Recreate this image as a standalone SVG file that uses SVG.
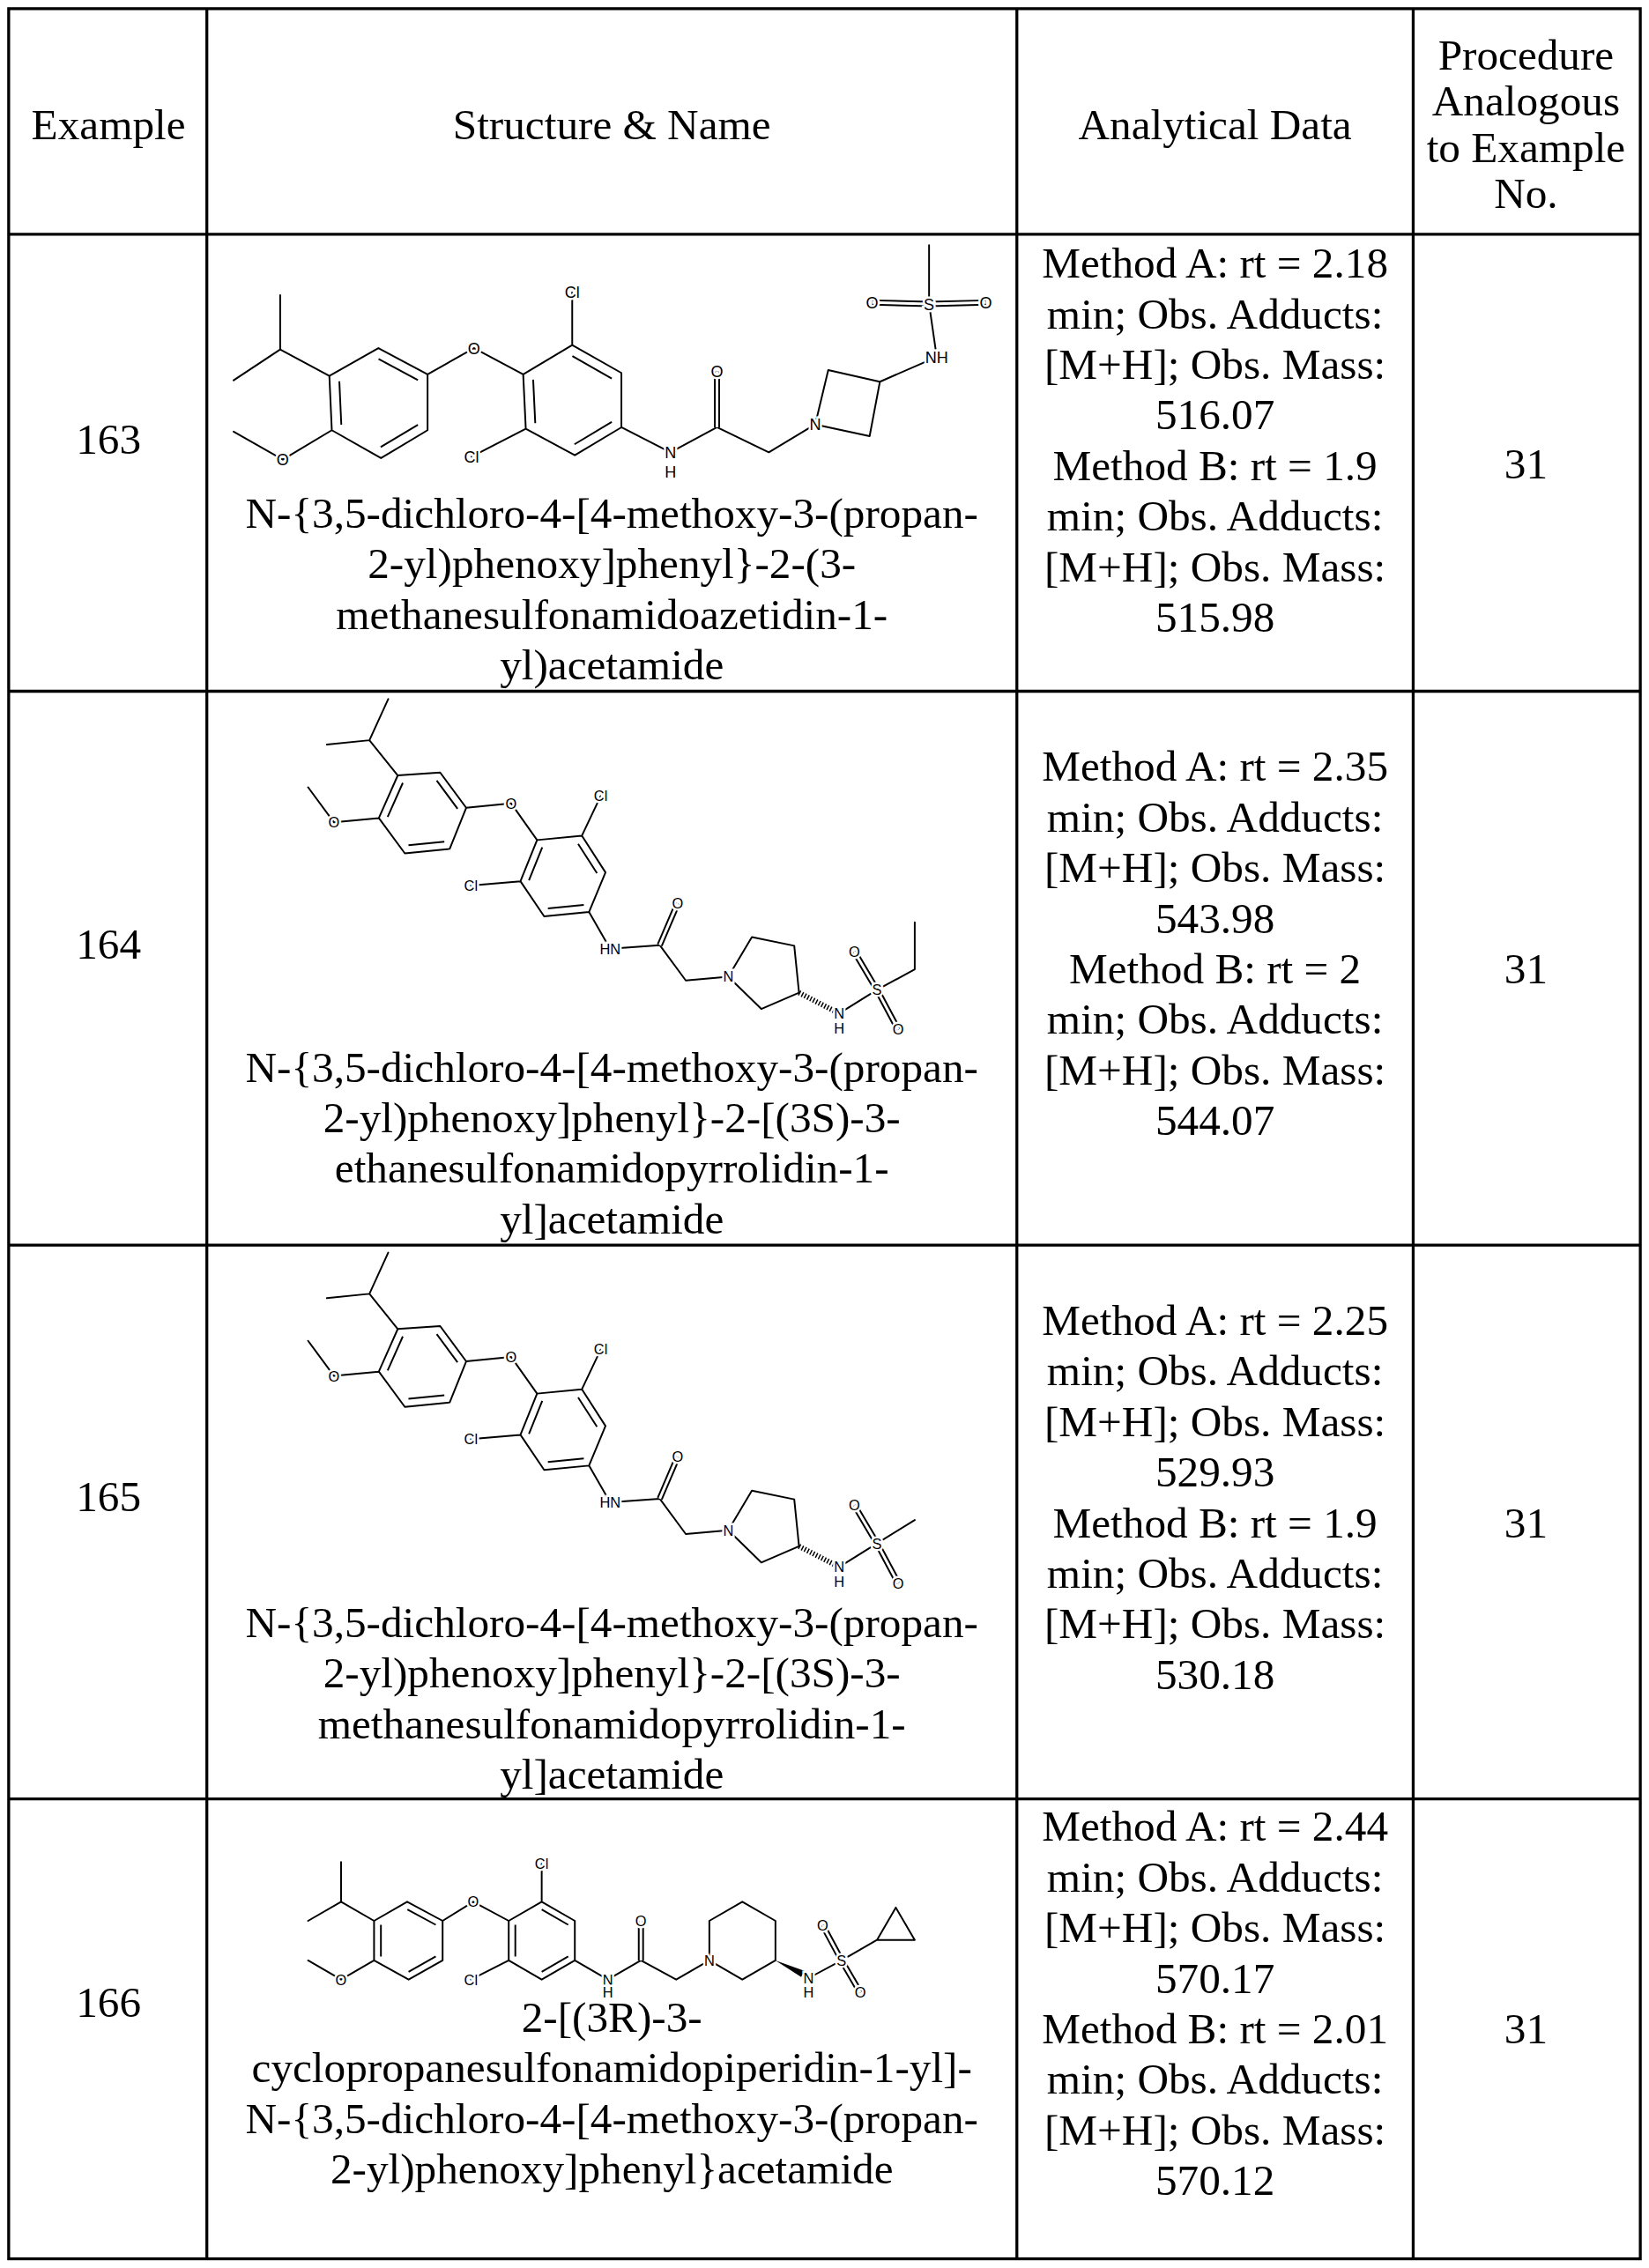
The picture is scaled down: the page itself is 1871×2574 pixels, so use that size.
<svg xmlns="http://www.w3.org/2000/svg" xmlns:xlink="http://www.w3.org/1999/xlink" width="1871" height="2574" viewBox="0 0 1871 2574">
<style>
.grid{stroke:#000;stroke-width:2;fill:none}
.t{font-family:"Liberation Serif","Times New Roman",serif;font-size:30px;fill:#000;text-anchor:middle}
.b{stroke:#000;stroke-width:1.2;fill:none;stroke-linejoin:round;stroke-linecap:round}
.bi{stroke:#000;stroke-width:1.5;fill:none}
.d{stroke:#000;stroke-width:4.2;fill:none}
.dw{stroke:#fff;stroke-width:1.8;fill:none}
.h{stroke:#000;stroke-width:3.6;fill:none;stroke-dasharray:0.9 1.3}
.a{font-family:"Liberation Sans",Arial,sans-serif;font-size:10px;fill:#000;text-anchor:middle;stroke:#fff;stroke-width:3;paint-order:stroke}
.a10{font-size:11px}
</style>
<rect width="1871" height="2574" fill="#fff"/>
<g transform="scale(1.6412)">
<g id="table">
<rect x="6" y="6" width="1128" height="1556" class="grid"/>
<path class="grid" d="M143,6V1562M703,6V1562M977,6V1562M6,162H1134M6,478H1134M6,861H1134M6,1244H1134"/>
</g>
<g id="header">
<text class="t" x="75" y="96">Example</text>
<text class="t" x="423" y="96">Structure &amp; Name</text>
<text class="t" x="840" y="96">Analytical Data</text>
<text class="t" x="1055" y="48">Procedure</text>
<text class="t" x="1055" y="80">Analogous</text>
<text class="t" x="1055" y="112">to Example</text>
<text class="t" x="1055" y="144">No.</text>
</g>
<g id="row163">
<text class="t" x="75" y="314">163</text>
<text class="t" x="423" y="365">N-{3,5-dichloro-4-[4-methoxy-3-(propan-</text>
<text class="t" x="423" y="400">2-yl)phenoxy]phenyl}-2-(3-</text>
<text class="t" x="423" y="435">methanesulfonamidoazetidin-1-</text>
<text class="t" x="423" y="470">yl)acetamide</text>
<text class="t" x="840" y="192">Method A: rt = 2.18</text>
<text class="t" x="840" y="227">min; Obs. Adducts:</text>
<text class="t" x="840" y="262">[M+H]; Obs. Mass:</text>
<text class="t" x="840" y="297">516.07</text>
<text class="t" x="840" y="332">Method B: rt = 1.9</text>
<text class="t" x="840" y="367">min; Obs. Adducts:</text>
<text class="t" x="840" y="402">[M+H]; Obs. Mass:</text>
<text class="t" x="840" y="437">515.98</text>
<text class="t" x="1055" y="331">31</text>
<g id="mol163">
<path class="b" d="M193.7,204.1L193.7,241.7L161.5,263M193.7,241.7L227.7,260M227.7,260L261.6,240.7L295.6,258.9L295.6,297.5L263.4,316.8L229.4,297.5ZM229.4,297.5L195.5,317.8L161.5,298.5M295.6,258.9L327.7,240.7L361.7,258.9M361.7,258.9L395.6,238.6L429.6,257.9L429.6,295.5L397.4,314.8L363.5,296.5ZM395.6,238.6L395.6,202.1M363.5,296.5L326,315.8M429.6,295.5L463.5,312.8L495.7,295.5L531.5,312.8L563.6,293.5M563.6,293.5L572.6,255.9L608.3,264L601.2,301.6ZM608.3,264L647.6,246.8L642.3,210.2L642.3,169.6"/>
<path class="bi" transform="translate(262.2,278.6) scale(0.8) translate(-262.2,-278.6)" d="M261.6,240.7L295.6,258.9M295.6,297.5L263.4,316.8M229.4,297.5L227.7,260"/>
<path class="bi" transform="translate(396.2,277) scale(0.8) translate(-396.2,-277)" d="M395.6,238.6L429.6,257.9M429.6,295.5L397.4,314.8M363.5,296.5L361.7,258.9"/>
<path class="d" d="M495.7,295.5L495.7,256.9M642.3,210.2L603,209.2M642.3,210.2L681.6,209.2"/>
<path class="dw" d="M495.7,295.5L495.7,256.9M642.3,210.2L603,209.2M642.3,210.2L681.6,209.2"/>
<g class="a a10">
<text x="327.7" y="244.7">O</text><text x="195.5" y="321.8">O</text>
<text x="395.6" y="206.1">Cl</text><text x="326" y="319.8">Cl</text>
<text x="463.5" y="316.8">N</text><text x="463.5" y="330">H</text>
<text x="495.7" y="260.9">O</text><text x="563.6" y="297.5">N</text>
<text x="647.6" y="250.8">NH</text><text x="642.3" y="214.2">S</text>
<text x="603" y="213.2">O</text><text x="681.6" y="213.2">O</text>
</g>
</g>
</g>
<defs>
<g id="core164">
<path class="b" d="M268.4,483.4L255.4,511.9L226,514.9M255.4,511.9L275,536.2M275,536.2L304.3,534.2L322.3,558.6L310.9,587L279.9,590.1L261.9,565.7ZM261.9,565.7L230.9,568.7L213,544.4M322.3,558.6L353.3,555.5L371.3,580.9M371.3,580.9L402.3,577.9L418.6,603.3L407.2,630.7L376.2,633.7L359.8,609.4ZM402.3,577.9L415.3,550.4M359.8,609.4L325.6,612.4M407.2,630.7L421.8,656.1L456.1,653.6L474.1,678L503.5,675.4M503.5,675.4L519.8,648L549.1,654L552.4,686.5L526.3,697.7ZM580.2,700.8L606.3,684.5"/>
<path class="h" d="M552.4,686.5L577,699.2"/>
<path class="bi" transform="translate(292.4,562) scale(0.8) translate(-292.4,-562)" d="M304.3,534.2L322.3,558.6M310.9,587L279.9,590.1M261.9,565.7L275,536.2"/>
<path class="bi" transform="translate(389.2,606) scale(0.8) translate(-389.2,-606)" d="M402.3,577.9L418.6,603.3M407.2,630.7L376.2,633.7M359.8,609.4L371.3,580.9"/>
<path class="d" d="M456.1,653.6L468.5,624.6M606.3,684.5L590.6,658.1M606.3,684.5L621,712"/>
<path class="dw" d="M456.1,653.6L468.5,624.6M606.3,684.5L590.6,658.1M606.3,684.5L621,712"/>
</g>
<g id="labels164" class="a">
<text x="230.9" y="572.3">O</text><text x="353.3" y="559.1">O</text>
<text x="415.3" y="554">Cl</text><text x="325.6" y="616">Cl</text>
<text x="421.8" y="659.7">HN</text><text x="468.5" y="628.2">O</text>
<text x="503.5" y="679">N</text><text x="580.2" y="704.4">N</text>
<text x="580.2" y="714.6">H</text><text x="606.3" y="688.1">S</text>
<text x="590.6" y="661.7">O</text><text x="621" y="715.6">O</text>
</g>
</defs>
<g id="row164">
<text class="t" x="75" y="663">164</text>
<text class="t" x="423" y="748">N-{3,5-dichloro-4-[4-methoxy-3-(propan-</text>
<text class="t" x="423" y="783">2-yl)phenoxy]phenyl}-2-[(3S)-3-</text>
<text class="t" x="423" y="818">ethanesulfonamidopyrrolidin-1-</text>
<text class="t" x="423" y="853">yl]acetamide</text>
<text class="t" x="840" y="540">Method A: rt = 2.35</text>
<text class="t" x="840" y="575">min; Obs. Adducts:</text>
<text class="t" x="840" y="610">[M+H]; Obs. Mass:</text>
<text class="t" x="840" y="645">543.98</text>
<text class="t" x="840" y="680">Method B: rt = 2</text>
<text class="t" x="840" y="715">min; Obs. Adducts:</text>
<text class="t" x="840" y="750">[M+H]; Obs. Mass:</text>
<text class="t" x="840" y="785">544.07</text>
<text class="t" x="1055" y="680">31</text>
<g id="mol164">
<use xlink:href="#core164"/>
<path class="b" d="M606.3,684.5L632.4,670.3L632.4,637.8"/>
<use xlink:href="#labels164"/>
</g>
</g>
<g id="row165">
<text class="t" x="75" y="1045">165</text>
<text class="t" x="423" y="1132">N-{3,5-dichloro-4-[4-methoxy-3-(propan-</text>
<text class="t" x="423" y="1167">2-yl)phenoxy]phenyl}-2-[(3S)-3-</text>
<text class="t" x="423" y="1202">methanesulfonamidopyrrolidin-1-</text>
<text class="t" x="423" y="1237">yl]acetamide</text>
<text class="t" x="840" y="923">Method A: rt = 2.25</text>
<text class="t" x="840" y="958">min; Obs. Adducts:</text>
<text class="t" x="840" y="993">[M+H]; Obs. Mass:</text>
<text class="t" x="840" y="1028">529.93</text>
<text class="t" x="840" y="1063">Method B: rt = 1.9</text>
<text class="t" x="840" y="1098">min; Obs. Adducts:</text>
<text class="t" x="840" y="1133">[M+H]; Obs. Mass:</text>
<text class="t" x="840" y="1168">530.18</text>
<text class="t" x="1055" y="1063">31</text>
<g id="mol165" transform="translate(0,382.8)">
<use xlink:href="#core164"/>
<path class="b" d="M606.3,684.5L632.4,668.3"/>
<use xlink:href="#labels164"/>
</g>
</g>
<g id="row166">
<text class="t" x="75" y="1395">166</text>
<text class="t" x="423" y="1405">2-[(3R)-3-</text>
<text class="t" x="423" y="1440">cyclopropanesulfonamidopiperidin-1-yl]-</text>
<text class="t" x="423" y="1475">N-{3,5-dichloro-4-[4-methoxy-3-(propan-</text>
<text class="t" x="423" y="1510">2-yl)phenoxy]phenyl}acetamide</text>
<text class="t" x="840" y="1273">Method A: rt = 2.44</text>
<text class="t" x="840" y="1308">min; Obs. Adducts:</text>
<text class="t" x="840" y="1343">[M+H]; Obs. Mass:</text>
<text class="t" x="840" y="1378">570.17</text>
<text class="t" x="840" y="1413">Method B: rt = 2.01</text>
<text class="t" x="840" y="1448">min; Obs. Adducts:</text>
<text class="t" x="840" y="1483">[M+H]; Obs. Mass:</text>
<text class="t" x="840" y="1518">570.12</text>
<text class="t" x="1055" y="1413">31</text>
<g id="mol166">
<path class="b" d="M235.8,1287.6L235.8,1315.1L213,1328.3M235.8,1315.1L258.6,1328.3M258.6,1328.3L281.5,1315.1L306,1328.3L306,1355.7L282.5,1368.9L258.6,1355.7ZM258.6,1355.7L235.8,1368.9L213,1355.7M306,1328.3L327.2,1315.1L351.7,1328.3M351.7,1328.3L374.5,1315.1L397.4,1328.3L397.4,1355.7L374.5,1368.9L351.7,1355.7ZM374.5,1315.1L374.5,1288.7M351.7,1355.7L325.6,1368.9M397.4,1355.7L420.2,1368.9L443.1,1355.7L467.5,1368.9L490.4,1355.7M490.4,1355.7L490.4,1328.3L513.2,1315.1L536.1,1328.3L536.1,1355.7L513.2,1368.9ZM559,1367.9L581.8,1355.7L606.3,1341.5M606.3,1341.5L619.3,1319.1L632.4,1341.5Z"/>
<polygon points="536.1,1355.7 553.9,1367.2 556.1,1362.8" fill="#000"/>
<path class="bi" transform="translate(282.3,1342) scale(0.8) translate(-282.3,-1342)" d="M281.5,1315.1L306,1328.3M306,1355.7L282.5,1368.9M258.6,1355.7L258.6,1328.3"/>
<path class="bi" transform="translate(374.5,1342) scale(0.8) translate(-374.5,-1342)" d="M374.5,1315.1L397.4,1328.3M397.4,1355.7L374.5,1368.9M351.7,1355.7L351.7,1328.3"/>
<path class="d" d="M443.1,1355.7L443.1,1328.3M581.8,1355.7L568.7,1331.3M581.8,1355.7L594.8,1378"/>
<path class="dw" d="M443.1,1355.7L443.1,1328.3M581.8,1355.7L568.7,1331.3M581.8,1355.7L594.8,1378"/>
<g class="a">
<text x="235.8" y="1372.5">O</text><text x="327.2" y="1318.7">O</text>
<text x="374.5" y="1292.3">Cl</text><text x="325.6" y="1372.5">Cl</text>
<text x="420.2" y="1372.5">N</text><text x="420.2" y="1381.6">H</text>
<text x="443.1" y="1331.9">O</text><text x="490.4" y="1359.3">N</text>
<text x="559" y="1371.5">N</text><text x="559" y="1381.6">H</text>
<text x="581.8" y="1359.3">S</text><text x="568.7" y="1334.9">O</text>
<text x="594.8" y="1381.6">O</text>
</g>
</g>
</g>
</g>
</svg>
